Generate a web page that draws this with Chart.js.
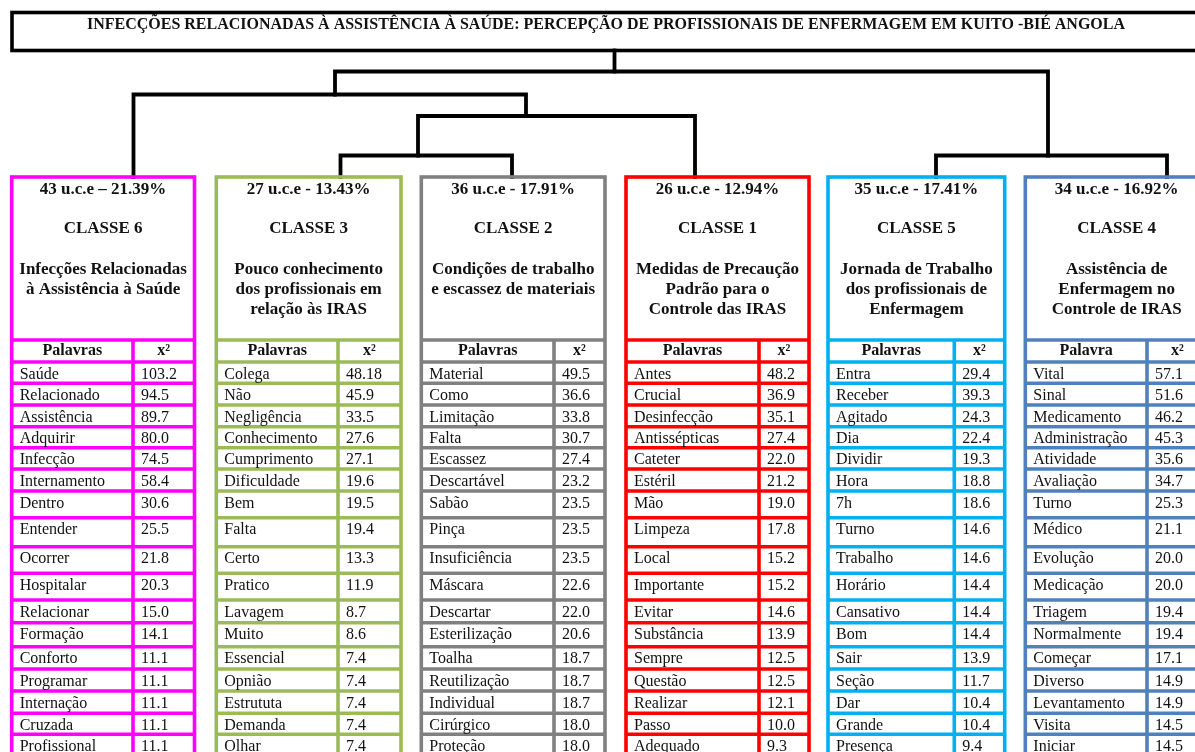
<!DOCTYPE html>
<html lang="pt">
<head>
<meta charset="utf-8">
<title>Classes - IRAS Kuito-Bié</title>
<script src="https://cdn.jsdelivr.net/npm/chart.js@4.4.1/dist/chart.umd.min.js"></script>
<style>
  html, body { margin: 0; padding: 0; background: #fff; }
  #wrap { width: 1195px; height: 752px; }
</style>
</head>
<body>
<div id="wrap"><canvas id="chart" width="1195" height="752"></canvas></div>
<script>
// ---- dados ----
const titulo = "INFECÇÕES RELACIONADAS À ASSISTÊNCIA À SAÚDE: PERCEPÇÃO DE PROFISSIONAIS DE ENFERMAGEM EM KUITO -BIÉ ANGOLA";

const classes = ["CLASSE 6", "CLASSE 3", "CLASSE 2", "CLASSE 1", "CLASSE 5", "CLASSE 4"];
const uce = ["43 u.c.e – 21.39%", "27 u.c.e - 13.43%", "36 u.c.e - 17.91%", "26 u.c.e - 12.94%", "35 u.c.e - 17.41%", "34 u.c.e - 16.92%"];
const temas = [
  ["Infecções Relacionadas", "à Assistência à Saúde"],
  ["Pouco conhecimento", "dos profissionais em", "relação às IRAS"],
  ["Condições de trabalho", "e escassez de materiais"],
  ["Medidas de Precaução", "Padrão para o", "Controle das IRAS"],
  ["Jornada de Trabalho", "dos profissionais de", "Enfermagem"],
  ["Assistência de", "Enfermagem no", "Controle de IRAS"]
];
const cabecalho = ["Palavras", "Palavras", "Palavras", "Palavras", "Palavras", "Palavra"];

const palavras6 = ["Saúde", "Relacionado", "Assistência", "Adquirir", "Infecção", "Internamento", "Dentro", "Entender", "Ocorrer", "Hospitalar", "Relacionar", "Formação", "Conforto", "Programar", "Internação", "Cruzada", "Profissional"];
const chi6 = [103.2, 94.5, 89.7, 80.0, 74.5, 58.4, 30.6, 25.5, 21.8, 20.3, 15.0, 14.1, 11.1, 11.1, 11.1, 11.1, 11.1];

const palavras3 = ["Colega", "Não", "Negligência", "Conhecimento", "Cumprimento", "Dificuldade", "Bem", "Falta", "Certo", "Pratico", "Lavagem", "Muito", "Essencial", "Opnião", "Estrututa", "Demanda", "Olhar"];
const chi3 = [48.18, 45.9, 33.5, 27.6, 27.1, 19.6, 19.5, 19.4, 13.3, 11.9, 8.7, 8.6, 7.4, 7.4, 7.4, 7.4, 7.4];

const palavras2 = ["Material", "Como", "Limitação", "Falta", "Escassez", "Descartável", "Sabão", "Pinça", "Insuficiência", "Máscara", "Descartar", "Esterilização", "Toalha", "Reutilização", "Individual", "Cirúrgico", "Proteção"];
const chi2 = [49.5, 36.6, 33.8, 30.7, 27.4, 23.2, 23.5, 23.5, 23.5, 22.6, 22.0, 20.6, 18.7, 18.7, 18.7, 18.0, 18.0];

const palavras1 = ["Antes", "Crucial", "Desinfecção", "Antissépticas", "Cateter", "Estéril", "Mão", "Limpeza", "Local", "Importante", "Evitar", "Substância", "Sempre", "Questão", "Realizar", "Passo", "Adequado"];
const chi1 = [48.2, 36.9, 35.1, 27.4, 22.0, 21.2, 19.0, 17.8, 15.2, 15.2, 14.6, 13.9, 12.5, 12.5, 12.1, 10.0, 9.3];

const palavras5 = ["Entra", "Receber", "Agitado", "Dia", "Dividir", "Hora", "7h", "Turno", "Trabalho", "Horário", "Cansativo", "Bom", "Sair", "Seção", "Dar", "Grande", "Presença"];
const chi5 = [29.4, 39.3, 24.3, 22.4, 19.3, 18.8, 18.6, 14.6, 14.6, 14.4, 14.4, 14.4, 13.9, 11.7, 10.4, 10.4, 9.4];

const palavras4 = ["Vital", "Sinal", "Medicamento", "Administração", "Atividade", "Avaliação", "Turno", "Médico", "Evolução", "Medicação", "Triagem", "Normalmente", "Começar", "Diverso", "Levantamento", "Visita", "Iniciar"];
const chi4 = [57.1, 51.6, 46.2, 45.3, 35.6, 34.7, 25.3, 21.1, 20.0, 20.0, 19.4, 19.4, 17.1, 14.9, 14.9, 14.5, 14.5];

const palavras = [palavras6, palavras3, palavras2, palavras1, palavras5, palavras4];
const chis = [chi6, chi3, chi2, chi1, chi5, chi4];

// dendrograma: folhas 0..5 na ordem das classes; nós internos a partir de 6
const fusoes = [
  [1, 2],   // 6: C3 + C2
  [6, 3],   // 7: + C1
  [0, 7],   // 8: C6 + ...
  [4, 5],   // 9: C5 + C4
  [8, 9]    // 10: raiz
];

// ---- layout ----
const cores = ["#ff00ff", "#9bbb59", "#808080", "#ff0000", "#00b0f0", "#4f81bd"];
const caixaEsq = [11.7, 216.3, 421.3, 626, 828, 1025.3];
const caixaDir = [194.5, 401, 605, 809, 1004.7, 1208];
const caixaSep = [133, 338, 554, 759, 954.3, 1147];
const ramoX = [133.5, 340.5, 512, 695, 936, 1167, 418, 526, 335, 1048, 614.5];
const ramoY = [177, 177, 177, 177, 177, 177, 155.5, 116, 94.5, 155.5, 71.5];
const linhas = [340, 362, 383.3, 405, 426.7, 447.7, 469, 491, 517.7, 546.7, 573.3, 600, 622.7, 646.7, 669, 691, 713.3, 734.3, 756];
const topoCaixa = 177;
const tituloCaixa = { x0: 12, y0: 12.5, x1: 1200, y1: 50.5 };

const fmt = v => { const s = String(v); return s.includes(".") ? s : s + ".0"; };

const datasets = fusoes.map(([a, b], k) => {
  const n = 6 + k;
  return {
    data: [
      { x: ramoX[a], y: ramoY[a] },
      { x: ramoX[a], y: ramoY[n] },
      { x: ramoX[b], y: ramoY[n] },
      { x: ramoX[b], y: ramoY[b] }
    ]
  };
});
datasets.push({ data: [{ x: ramoX[10], y: ramoY[10] }, { x: ramoX[10], y: tituloCaixa.y1 }] });
datasets.forEach(d => Object.assign(d, {
  showLine: true, borderColor: "#000", borderWidth: 3.8, pointRadius: 0,
  borderJoinStyle: "miter", borderCapStyle: "square", tension: 0, fill: false
}));

const tabelas = {
  id: "tabelas",
  afterDraw(chart) {
    const c = chart.ctx;
    const X = v => chart.scales.x.getPixelForValue(v);
    const Y = v => chart.scales.y.getPixelForValue(v);
    c.save();
    c.lineJoin = "miter";

    // título
    c.strokeStyle = "#000";
    c.lineWidth = 3.6;
    c.strokeRect(X(tituloCaixa.x0), Y(tituloCaixa.y0), X(tituloCaixa.x1) - X(tituloCaixa.x0), Y(tituloCaixa.y1) - Y(tituloCaixa.y0));
    c.fillStyle = "#111";
    c.textAlign = "center";
    c.textBaseline = "middle";
    c.font = "bold 16px 'Liberation Serif', 'Times New Roman', serif";
    c.fillText(titulo, X(606), Y(24.5));

    const fundo = linhas[linhas.length - 1];
    classes.forEach((cl, i) => {
      const L = caixaEsq[i], R = caixaDir[i], S = caixaSep[i];
      const cx = X((L + R) / 2);
      c.strokeStyle = cores[i];
      c.lineWidth = 3.6;
      c.strokeRect(X(L), Y(topoCaixa), X(R) - X(L), Y(fundo) - Y(topoCaixa));
      linhas.slice(0, -1).forEach(yy => {
        c.beginPath(); c.moveTo(X(L), Y(yy)); c.lineTo(X(R), Y(yy)); c.stroke();
      });
      c.beginPath(); c.moveTo(X(S), Y(linhas[0])); c.lineTo(X(S), Y(fundo)); c.stroke();

      c.fillStyle = "#111";
      c.textAlign = "center";
      c.font = "bold 17px 'Liberation Serif', 'Times New Roman', serif";
      c.fillText(uce[i], cx, Y(190));
      c.fillText(cl, cx, Y(229));
      temas[i].forEach((t, j) => c.fillText(t, cx, Y(270 + j * 19.8)));

      c.font = "bold 16px 'Liberation Serif', 'Times New Roman', serif";
      const hy = Y((linhas[0] + linhas[1]) / 2);
      c.fillText(cabecalho[i], X((L + S) / 2), hy);
      c.fillText("x²", X((S + R) / 2), hy);

      c.font = "16px 'Liberation Serif', 'Times New Roman', serif";
      c.textAlign = "left";
      palavras[i].forEach((w, r) => {
        const ty = Y(linhas[r + 1] + 12.5);
        c.fillText(w, X(L + 8), ty);
        c.fillText(fmt(chis[i][r]), X(S + 8), ty);
      });
    });
    c.restore();
  }
};

new Chart(document.getElementById("chart"), {
  type: "scatter",
  data: { datasets },
  options: {
    responsive: false,
    animation: false,
    devicePixelRatio: 1,
    layout: { padding: 0 },
    plugins: { legend: { display: false }, tooltip: { enabled: false } },
    scales: {
      x: { type: "linear", min: 0, max: 1195, display: false },
      y: { type: "linear", min: 0, max: 752, reverse: true, display: false }
    }
  },
  plugins: [tabelas]
});
</script>
</body>
</html>
